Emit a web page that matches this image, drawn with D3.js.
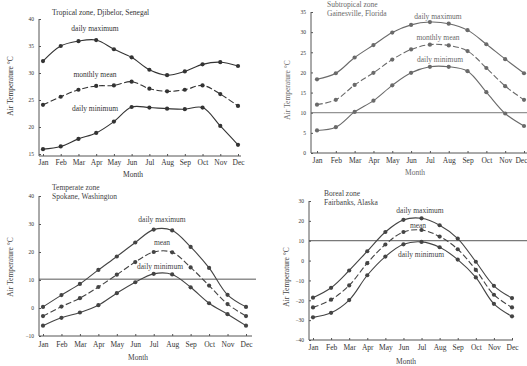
<!DOCTYPE html>
<html>
<head>
<meta charset="utf-8">
<script src="https://cdn.jsdelivr.net/npm/d3@7"></script>
<style>
  body { margin: 0; background: #fff; }
  svg { display: block; font-family: "Liberation Serif", "DejaVu Serif", serif; }
  .axis path, .axis line { stroke: #555; }
  .axis text { fill: #333; font-family: "Liberation Serif", serif; }
</style>
</head>
<body>
<svg id="chart" width="527" height="366"></svg>
<script>
// Monthly air temperature (°C) for four climate zones.
const months = ["Jan", "Feb", "Mar", "Apr", "May", "Jun", "Jul", "Aug", "Sep", "Oct", "Nov", "Dec"];

// Tropical zone, Djibelor, Senegal
const tropicalMax = [32.2, 35.0, 35.9, 36.1, 34.4, 32.9, 30.6, 29.6, 30.3, 31.6, 32.0, 31.3];
const tropicalMean = [24.1, 25.6, 26.9, 27.6, 27.7, 28.4, 27.1, 26.6, 26.9, 27.7, 26.1, 23.9];
const tropicalMin = [15.9, 16.4, 17.8, 18.9, 21.0, 23.7, 23.6, 23.4, 23.3, 23.6, 20.2, 16.7];

// Subtropical zone, Gainesville, Florida
const subtropicalMax = [18.3, 19.8, 23.7, 26.8, 29.9, 31.8, 32.5, 32.1, 30.5, 27.0, 23.3, 19.8];
const subtropicalMean = [12.0, 13.2, 16.9, 19.9, 23.2, 25.7, 26.9, 26.7, 25.3, 21.1, 16.6, 13.2];
const subtropicalMin = [5.6, 6.4, 10.2, 13.0, 16.8, 19.9, 21.4, 21.4, 20.3, 15.1, 9.8, 6.7];

// Temperate zone, Spokane, Washington
const temperateMax = [0.4, 4.6, 8.6, 13.6, 18.4, 23.4, 28.0, 27.7, 21.8, 14.3, 4.7, 0.4];
const temperateMean = [-2.9, 0.5, 3.5, 7.5, 11.9, 16.4, 20.0, 19.9, 14.5, 8.0, 1.4, -2.9];
const temperateMin = [-6.3, -3.5, -1.6, 1.0, 5.3, 9.2, 12.2, 12.0, 7.4, 1.7, -2.2, -6.3];

// Boreal zone, Fairbanks, Alaska
const borealMax = [-18.7, -13.7, -5.0, 4.7, 14.4, 20.5, 21.3, 17.8, 11.1, -0.6, -12.7, -18.9];
const borealMean = [-23.6, -19.7, -12.5, -1.3, 8.1, 14.4, 15.4, 12.1, 5.7, -4.7, -17.2, -23.6];
const borealMin = [-28.6, -26.3, -19.9, -7.4, 2.0, 8.2, 9.4, 6.7, 0.5, -8.5, -21.8, -28.1];

// Panel frames: pixel boxes for each small chart.
const panels = [
    {
        title: ["Tropical zone, Djibelor, Senegal"], titleX: 52, titleY: 15,
        series: [tropicalMax, tropicalMean, tropicalMin],
        labels: ["daily maximum", "monthly mean", "daily minimum"],
        labelPos: [[95, 31], [95, 77], [95, 111]],
        yDomain: [15, 40], yTicks: d3.range(15, 41, 5), yRange: [154, 19],
        axisX: 39, axisY: 156, xRange: [43, 238], xEnd: 241,
        refLine: null,
        ylabelX: 13, ylabelY: 86, monthY: 165, monthLabelX: 133, monthLabelY: 177,
        ink: "#333"
    },
    {
        title: ["Subtropical zone", "Gainesville, Florida"], titleX: 327, titleY: 7,
        series: [subtropicalMax, subtropicalMean, subtropicalMin],
        labels: ["daily maximum", "monthly mean", "daily minimum"],
        labelPos: [[438, 19], [438, 40], [440, 62]],
        yDomain: [0, 35], yTicks: d3.range(0, 36, 5), yRange: [153, 12],
        axisX: 311, axisY: 153, xRange: [317, 524], xEnd: 527,
        refLine: 10, refEnd: 527,
        ylabelX: 290, ylabelY: 90, monthY: 163, monthLabelX: 415, monthLabelY: 175,
        ink: "#6a6a6a"
    },
    {
        title: ["Temperate zone", "Spokane, Washington"], titleX: 52, titleY: 190,
        series: [temperateMax, temperateMean, temperateMin],
        labels: ["daily maximum", "mean", "daily minimum"],
        labelPos: [[162, 222], [162, 245], [160, 269]],
        yDomain: [-10, 40], yTicks: d3.range(-10, 41, 10), yRange: [336, 196],
        axisX: 39, axisY: 336, xRange: [43, 246], xEnd: 252,
        refLine: 10.3, refEnd: 256,
        ylabelX: 13, ylabelY: 267, monthY: 347, monthLabelX: 138, monthLabelY: 360,
        ink: "#444"
    },
    {
        title: ["Boreal zone", "Fairbanks, Alaska"], titleX: 324, titleY: 196,
        series: [borealMax, borealMean, borealMin],
        labels: ["daily maximum", "mean", "daily minimum"],
        labelPos: [[420, 213], [418, 228], [421, 257]],
        yDomain: [-40, 30], yTicks: d3.range(-40, 31, 10), yRange: [340, 201],
        axisX: 309, axisY: 340, xRange: [313, 512], xEnd: 513,
        refLine: 10, refEnd: 527,
        ylabelX: 289, ylabelY: 277, monthY: 350, monthLabelX: 406, monthLabelY: 364,
        ink: "#444"
    }
];

const svg = d3.select("#chart");
const width = +svg.attr("width");

panels.forEach(p => {
    const g = svg.append("g");
    const x = d3.scalePoint().domain(months).range(p.xRange);
    const y = d3.scaleLinear().domain(p.yDomain).range(p.yRange);

    // y axis: ticks point inward, small labels
    const yAxis = g.append("g")
        .attr("class", "axis")
        .attr("transform", `translate(${p.axisX},0)`)
        .call(d3.axisLeft(y).tickValues(p.yTicks).tickSizeInner(-2).tickSizeOuter(0).tickPadding(5));
    yAxis.select(".domain").attr("d", `M0,${p.yRange[1]}V${p.axisY}`).attr("stroke", p.ink);
    yAxis.selectAll("line").attr("stroke", p.ink);
    yAxis.selectAll("text").attr("font-size", 5.5).attr("fill", p.ink);

    // x axis
    const xAxis = g.append("g")
        .attr("class", "axis")
        .attr("transform", `translate(0,${p.axisY})`)
        .call(d3.axisBottom(x).tickSizeInner(-2).tickSizeOuter(0).tickPadding(0));
    xAxis.select(".domain").attr("d", `M${p.axisX},0H${p.xEnd}`).attr("stroke", p.ink);
    xAxis.selectAll("line").attr("stroke", p.ink);
    xAxis.selectAll("text").attr("font-size", 7.5).attr("fill", p.ink)
        .attr("dy", null).attr("y", p.monthY - p.axisY);
    // keep a month label that would run past the right edge inside the page
    xAxis.selectAll(".tick").each(function (d) {
        if (x(d) + 6 > width) {
            d3.select(this).select("text").attr("text-anchor", "end").attr("x", width - x(d));
        }
    });

    if (p.refLine !== null) {
        g.append("line")
            .attr("x1", p.axisX).attr("x2", p.refEnd)
            .attr("y1", y(p.refLine)).attr("y2", y(p.refLine))
            .attr("stroke", p.ink).attr("stroke-width", 0.9);
    }

    const line = d3.line()
        .x((d, i) => x(months[i]))
        .y(d => y(d))
        .curve(d3.curveCatmullRom.alpha(0.5));

    p.series.forEach((s, k) => {
        g.append("path")
            .attr("d", line(s))
            .attr("fill", "none")
            .attr("stroke", p.ink)
            .attr("stroke-width", 1.1)
            .attr("stroke-dasharray", k === 1 ? "6,2.5" : null);
        g.selectAll(null)
            .data(s)
            .join("circle")
            .attr("cx", (d, i) => x(months[i]))
            .attr("cy", d => y(d))
            .attr("r", 2.1)
            .attr("fill", p.ink);
    });

    p.labels.forEach((t, k) => {
        g.append("text")
            .attr("x", p.labelPos[k][0]).attr("y", p.labelPos[k][1])
            .attr("text-anchor", "middle")
            .attr("font-size", 7.5)
            .attr("fill", p.ink)
            .text(t);
    });

    p.title.forEach((t, k) => {
        g.append("text")
            .attr("x", p.titleX).attr("y", p.titleY + k * 8.5)
            .attr("font-size", 7.5)
            .attr("fill", p.ink)
            .text(t);
    });

    g.append("text")
        .attr("transform", `translate(${p.ylabelX},${p.ylabelY}) rotate(-90)`)
        .attr("text-anchor", "middle")
        .attr("font-size", 7.5)
        .attr("fill", p.ink)
        .text("Air Temperature  °C");

    g.append("text")
        .attr("x", p.monthLabelX).attr("y", p.monthLabelY)
        .attr("text-anchor", "middle")
        .attr("font-size", 7.5)
        .attr("fill", p.ink)
        .text("Month");
});
</script>
</body>
</html>
